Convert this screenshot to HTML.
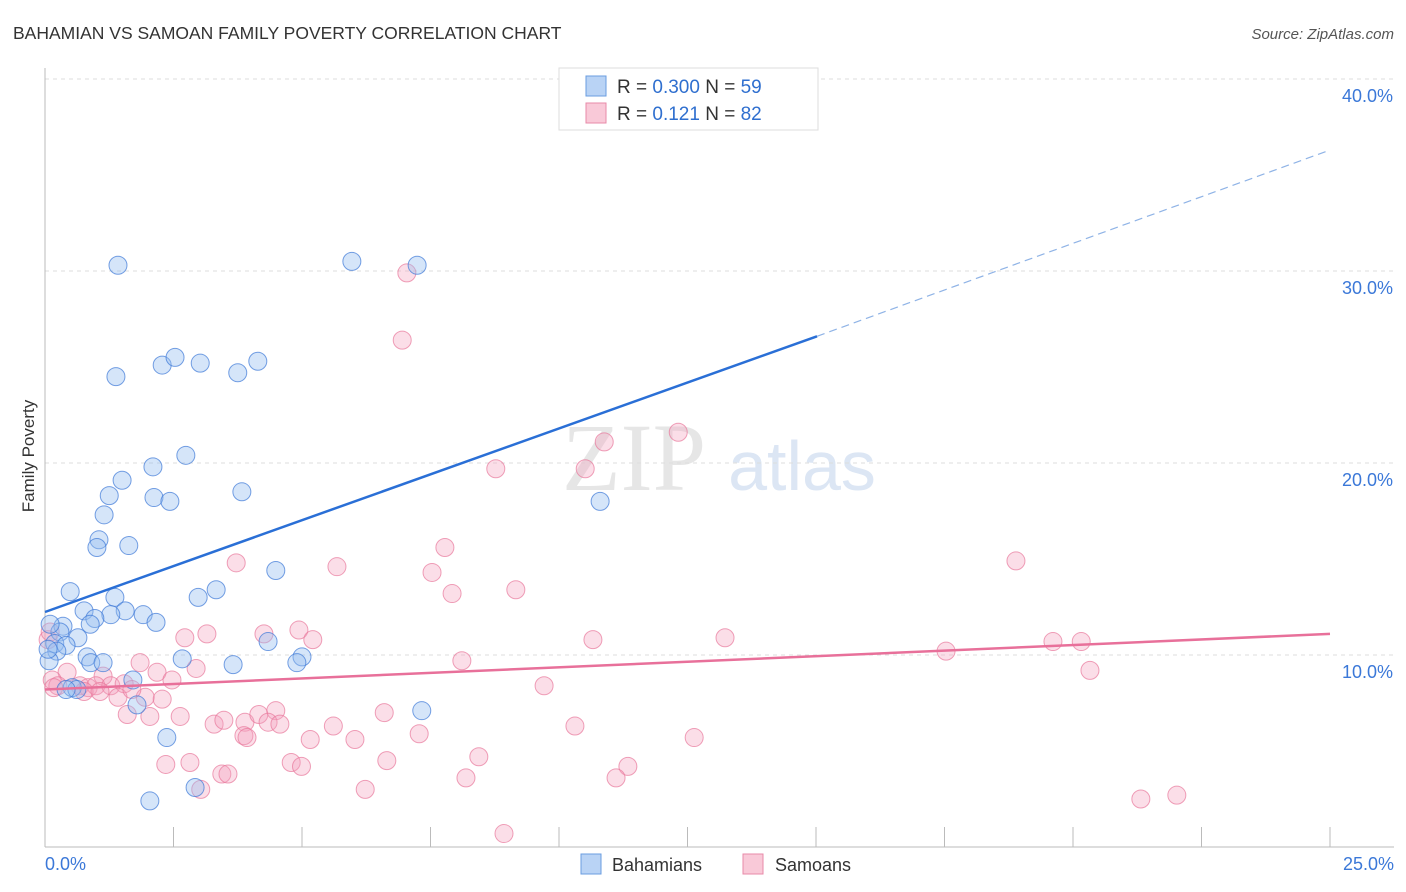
<!DOCTYPE html>
<html><head><meta charset="utf-8"><style>
body{margin:0;background:#fff;font-family:"Liberation Sans",sans-serif;}
svg{display:block}
</style></head><body>
<svg id="chart" width="1406" height="892" xmlns="http://www.w3.org/2000/svg">
<text x="13" y="39" font-size="17.5" fill="#333">BAHAMIAN VS SAMOAN FAMILY POVERTY CORRELATION CHART</text>
<text x="1394" y="39" font-size="15" fill="#555" font-style="italic" text-anchor="end">Source: ZipAtlas.com</text>
<text x="634" y="490" font-size="96" fill="#e6e6e6" font-family="Liberation Serif,serif" text-anchor="middle">ZIP</text>
<text x="802" y="490" font-size="70" fill="#dce6f4" text-anchor="middle">atlas</text>
<g id="grid"></g>
<text transform="translate(34,456) rotate(-90)" font-size="17" fill="#333" text-anchor="middle">Family Poverty</text>
<g id="marks"></g>
<g>
<rect x="559" y="68" width="259" height="62" fill="#fff" stroke="#ddd"/>
<rect x="586" y="76" width="20" height="20" fill="#b9d3f5" stroke="#6a9de0"/>
<rect x="586" y="103" width="20" height="20" fill="#f9c9d8" stroke="#e88aa8"/>
<text x="617" y="93" font-size="19" fill="#333">R = <tspan fill="#2f6fcf">0.300</tspan>   N = <tspan fill="#2f6fcf">59</tspan></text>
<text x="617" y="120" font-size="19" fill="#333">R =   <tspan fill="#2f6fcf">0.121</tspan>   N = <tspan fill="#2f6fcf">82</tspan></text>
</g>
<g>
<rect x="581" y="854" width="20" height="20" fill="#b9d3f5" stroke="#6a9de0"/>
<text x="612" y="871" font-size="18" fill="#333">Bahamians</text>
<rect x="743" y="854" width="20" height="20" fill="#f9c9d8" stroke="#e88aa8"/>
<text x="775" y="871" font-size="18" fill="#333">Samoans</text>
</g>
</svg>
<script>
const blueX=[1.42,5.97,7.24,1.38,2.28,2.53,3.02,3.75,4.14,2.74,2.10,1.50,1.25,2.12,2.43,3.83,1.15,1.05,1.01,1.63,10.80,4.49,0.49,3.33,2.98,1.36,0.76,1.56,1.28,1.91,2.16,0.97,0.88,0.35,0.64,0.29,0.10,0.19,0.41,0.23,0.08,0.82,0.89,1.13,2.67,3.66,4.34,5.00,4.90,0.53,0.62,1.71,1.79,7.33,2.37,2.92,2.04,0.41,0.06];
const blueY=[30.3,30.5,30.3,24.5,25.1,25.5,25.2,24.7,25.3,20.4,19.8,19.1,18.3,18.2,18.0,18.5,17.3,16.0,15.6,15.7,18.0,14.4,13.3,13.4,13.0,13.0,12.3,12.3,12.1,12.1,11.7,11.9,11.6,11.5,10.9,11.2,11.6,10.6,10.5,10.2,9.7,9.9,9.6,9.6,9.8,9.5,10.7,9.9,9.6,8.3,8.2,8.7,7.4,7.1,5.7,3.1,2.4,8.2,10.3];
const pinkX=[7.04,6.95,12.32,10.88,8.77,10.51,7.78,3.72,5.68,18.89,7.53,7.92,9.16,3.15,2.72,4.26,4.94,5.21,10.66,13.23,17.53,19.61,20.16,20.33,8.11,1.85,2.94,2.18,2.47,0.43,1.13,0.14,0.25,0.68,0.84,0.99,1.28,1.54,0.76,1.07,1.42,1.95,2.28,1.69,0.17,9.71,1.60,2.04,2.63,3.29,3.48,3.89,4.16,4.49,4.34,4.57,3.87,3.93,5.61,6.60,7.28,5.16,6.03,10.31,12.63,2.35,2.82,4.79,4.99,6.65,8.44,11.34,3.44,3.56,8.19,11.11,6.23,3.03,8.93,21.32,22.02,0.06,0.10];
const pinkY=[29.9,26.4,21.6,21.1,19.7,19.7,15.6,14.8,14.6,14.9,14.3,13.2,13.4,11.1,10.9,11.1,11.3,10.8,10.8,10.9,10.2,10.7,10.7,9.2,9.7,9.6,9.3,9.1,8.7,9.1,8.9,8.7,8.4,8.4,8.3,8.4,8.4,8.5,8.1,8.1,7.8,7.8,7.7,8.2,8.3,8.4,6.9,6.8,6.8,6.4,6.6,6.5,6.9,7.1,6.5,6.4,5.8,5.7,6.3,7.0,5.9,5.6,5.6,6.3,5.7,4.3,4.4,4.4,4.2,4.5,4.7,4.2,3.8,3.8,3.6,3.6,3.0,3.0,0.7,2.5,2.7,10.8,11.2];
const blueTrendX=[0,15.02,25];
const blueTrendY=[12.24,26.6,36.3];
const pinkTrendX=[0,25];
const pinkTrendY=[8.2,11.1];
const yTicks=[10,20,30,40];
const yTickLabels=["10.0%","20.0%","30.0%","40.0%"];
const xTicks=[0,2.5,5,7.5,10,12.5,15,17.5,20,22.5,25];
const NS="http://www.w3.org/2000/svg";
const sx=v=>45+v/25*1285;
const sy=v=>847-v*19.2;
function mk(tag,attrs,parent){const e=document.createElementNS(NS,tag);for(const k in attrs)e.setAttribute(k,attrs[k]);parent.appendChild(e);return e;}
const grid=document.getElementById('grid'),marks=document.getElementById('marks');
yTicks.forEach((t,i)=>{
 const l=mk('line',{x1:45,x2:1394,y1:sy(t),y2:sy(t),stroke:'#ddd','stroke-dasharray':'4,4'},grid);
 
 
 const tx=mk('text',{x:1393,y:sy(t)+23,'font-size':18,fill:'#3b78d8','text-anchor':'end'},grid);
 tx.textContent=yTickLabels[i];
 
 
});
const ax=mk('line',{x1:45,x2:1394,y1:847,y2:847,stroke:'#bbb'},grid);


const ay=mk('line',{x1:45,x2:45,y1:68,y2:847,stroke:'#bbb'},grid);


xTicks.forEach(t=>{
 const l=mk('line',{x1:sx(t),x2:sx(t),y1:827,y2:847,stroke:'#bbb'},grid);
 
 
});
const xl0=mk('text',{x:45,y:870,'font-size':18,fill:'#3b78d8'},grid);xl0.textContent=xTicks[0].toFixed(1)+'%';


const xl1=mk('text',{x:1394,y:870,'font-size':18,fill:'#3b78d8','text-anchor':'end'},grid);xl1.textContent=xTicks[xTicks.length-1].toFixed(1)+'%';


pinkX.forEach((x,i)=>{
 const c=mk('circle',{cx:sx(x),cy:sy(pinkY[i]),r:9,fill:'rgba(244,160,188,0.35)',stroke:'rgba(232,120,155,0.7)','stroke-width':1},marks);
 
 
});
blueX.forEach((x,i)=>{
 const c=mk('circle',{cx:sx(x),cy:sy(blueY[i]),r:9,fill:'rgba(150,190,240,0.4)',stroke:'rgba(60,120,215,0.7)','stroke-width':1},marks);
 
 
});
const b1=mk('line',{x1:sx(blueTrendX[0]),y1:sy(blueTrendY[0]),x2:sx(blueTrendX[1]),y2:sy(blueTrendY[1]),stroke:'#2a6fd6','stroke-width':2.5},marks);


const b2=mk('line',{x1:sx(blueTrendX[1]),y1:sy(blueTrendY[1]),x2:sx(blueTrendX[2]),y2:sy(blueTrendY[2]),stroke:'#8fb3e6','stroke-width':1.2,'stroke-dasharray':'8,5'},marks);


const p1=mk('line',{x1:sx(pinkTrendX[0]),y1:sy(pinkTrendY[0]),x2:sx(pinkTrendX[1]),y2:sy(pinkTrendY[1]),stroke:'#e8709a','stroke-width':2.5},marks);


</script>
</body></html>
